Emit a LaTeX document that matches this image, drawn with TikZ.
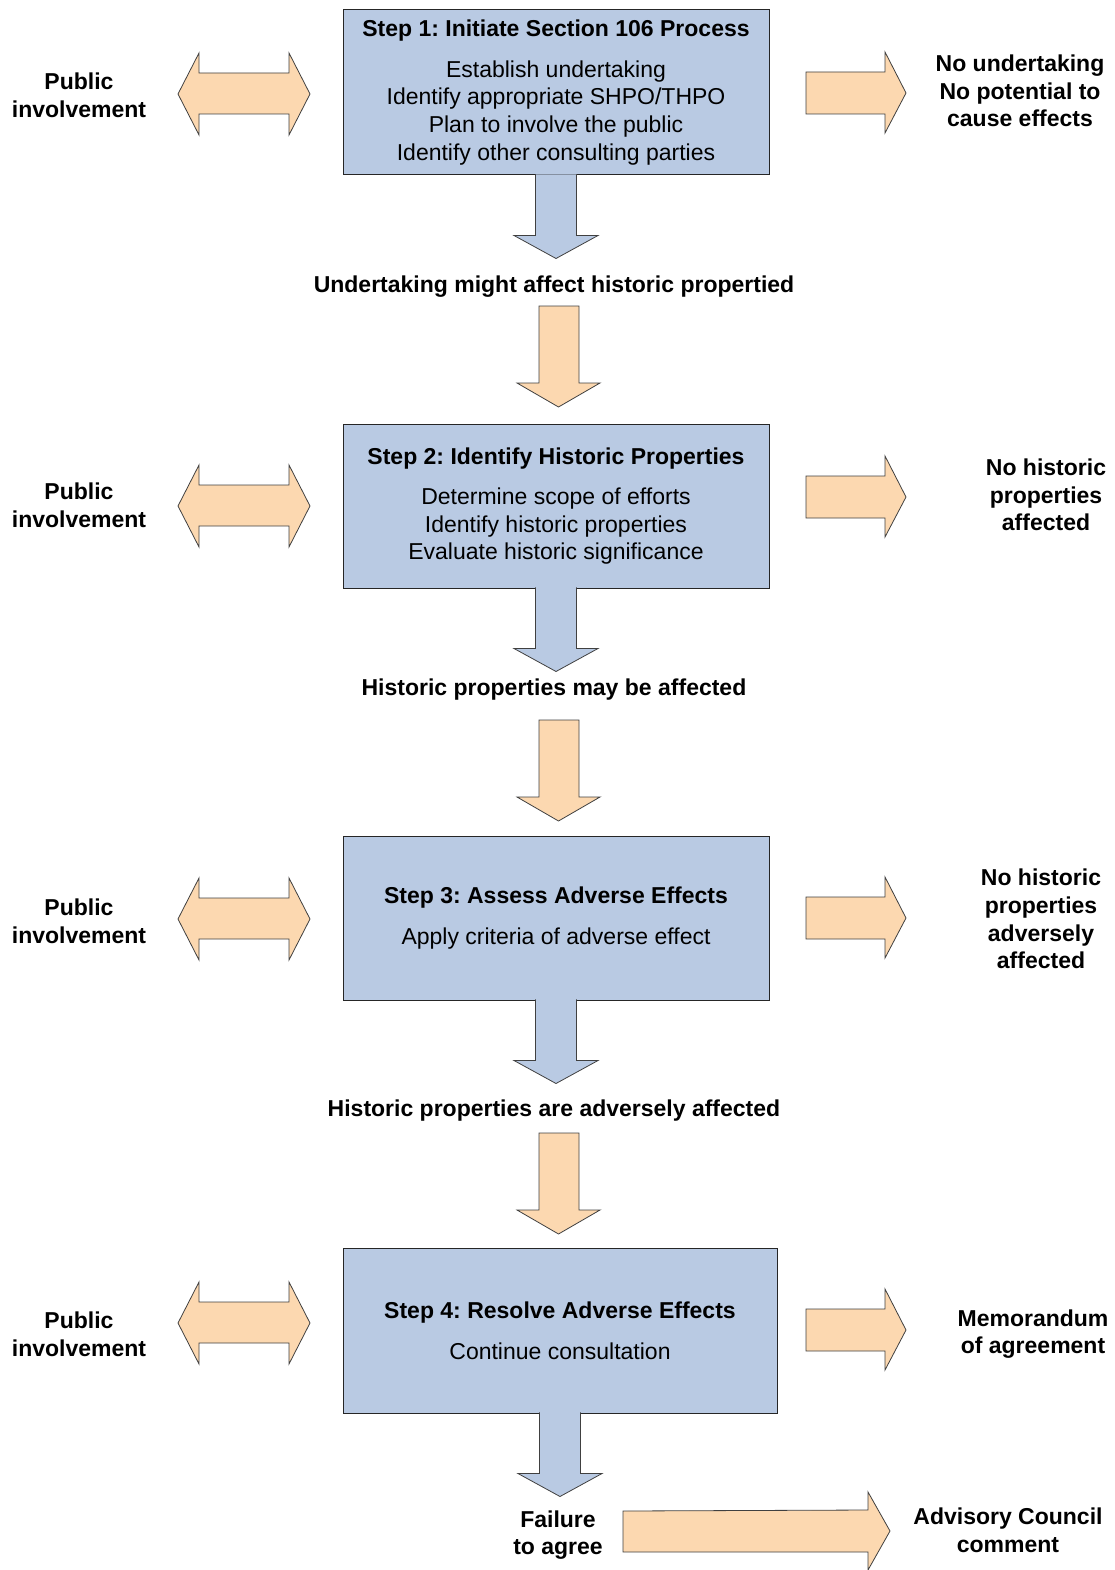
\documentclass[tikz,border=0pt]{standalone}
\usepackage{fontspec}
\setmainfont{Liberation Sans}
\usetikzlibrary{calc}
\frenchspacing

\definecolor{stepblue}{RGB}{185,202,227}
\definecolor{peach}{RGB}{252,216,176}

\begin{document}
\begin{tikzpicture}[x=1pt,y=-1pt,
  every node/.style={font=\fontsize{23}{27.6}\selectfont},
  stepbox/.style={draw=black!85,fill=stepblue,line width=1pt,align=center,inner sep=0pt},
  lbl/.style={align=center,inner sep=0pt,font=\fontsize{23}{27.6}\selectfont\bfseries},
  peacharrow/.style={draw=black!75,fill=peach,line width=0.8pt},
  bluearrow/.style={draw=black!75,fill=stepblue,line width=0.8pt}]

\useasboundingbox (0,0) rectangle (1115,1570);

% Step boxes
\node[stepbox,minimum width=426,minimum height=165] (step1) at (556,92.5)
  {\textbf{Step 1: Initiate Section 106 Process}\\[13pt]
   Establish undertaking\\ Identify appropriate SHPO/THPO\\
   Plan to involve the public\\ Identify other consulting parties};
\node[stepbox,minimum width=426,minimum height=164] (step2) at (556,506)
  {\textbf{Step 2: Identify Historic Properties}\\[13pt]
   Determine scope of efforts\\ Identify historic properties\\
   Evaluate historic significance};
\node[stepbox,minimum width=426,minimum height=164] (step3) at (556,918)
  {\textbf{Step 3: Assess Adverse Effects}\\[13pt]
   Apply criteria of adverse effect};
\node[stepbox,minimum width=434,minimum height=165] (step4) at (560,1330.5)
  {\textbf{Step 4: Resolve Adverse Effects}\\[13pt]
   Continue consultation};

% Blue arrows out of the boxes
\foreach \s in {1,...,4}
  \filldraw[bluearrow] ([xshift=-20.5pt,yshift=1.2pt]step\s.south) -- ++(0,61.2)
    -- ++(-21.5,0) -- ++(42,23) -- ++(42,-23) -- ++(-21.5,0) -- ++(0,-61.2);

% Results between the steps
\node[lbl] (res1) at (554,287) {Undertaking might affect historic propertied};
\node[lbl] (res2) at (554,690) {Historic properties may be affected};
\node[lbl] (res3) at (554,1111) {Historic properties are adversely affected};
\node[lbl] (fail) at (558,1535) {Failure\\to agree};

% Orange arrows down to the next step
\foreach \t in {306,720,1133}
  \filldraw[peacharrow] (539,\t) -- (579,\t) -- (579,{\t+77}) -- (600,{\t+77})
    -- (558.5,{\t+101}) -- (517,{\t+77}) -- (539,{\t+77}) -- cycle;

% Public involvement
\foreach \c/\n in {95/1,505/2,921/3,1334/4}
  \node[lbl] (pub\n) at (79,\c) {Public\\involvement};
\foreach \c in {94,506,919,1323}
  \filldraw[peacharrow] (178,\c) -- (199,{\c-41}) -- (199,{\c-21}) -- (289,{\c-21})
    -- (289,{\c-41}) -- (310,\c) -- (289,{\c+41}) -- (289,{\c+20}) -- (199,{\c+20})
    -- (199,{\c+41}) -- cycle;

% Ways out to the right
\foreach \c in {93,497,918,1330}
  \filldraw[peacharrow] (806,{\c-21}) -- (885,{\c-21}) -- (885,{\c-41}) -- (906,\c)
    -- (885,{\c+40}) -- (885,{\c+21}) -- (806,{\c+21}) -- cycle;
\node[lbl] (noeffect) at (1020,91) {No undertaking\\No potential to\\cause effects};
\node[lbl] (nohist) at (1046,495) {No historic\\properties\\affected};
\node[lbl] (noadverse) at (1041,919) {No historic\\properties\\adversely\\affected};
\node[lbl] (moa) at (1033,1334) {Memorandum\\of agreement};

% Failure to agree
\filldraw[peacharrow] (623,1511) -- (868,1510) -- (868,1492) -- (890,1531)
  -- (868,1570) -- (868,1552) -- (623,1552) -- cycle;
\node[lbl] (council) at (1008,1530) {Advisory Council\\comment};

\end{tikzpicture}
\end{document}
